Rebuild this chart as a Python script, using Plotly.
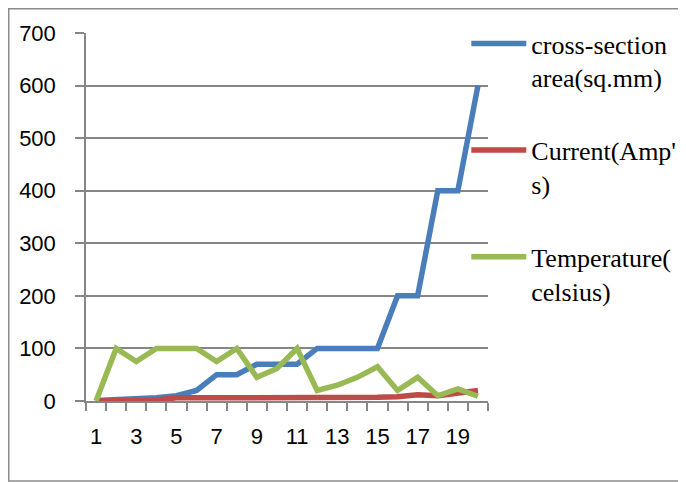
import plotly.graph_objects as go

categories = list(range(1, 21))
cross_section = [1, 2, 5, 6, 10, 20, 50, 50, 70, 70, 70, 100, 100, 100, 100, 200, 200, 400, 400, 600]
current = [0, 1, 1, 2, 6, 6, 6, 6, 6, 6, 7, 5, 6, 6, 7, 8, 12, 10, 15, 20]
temperature = [0, 100, 75, 100, 100, 100, 75, 100, 45, 62, 100, 20, 30, 45, 65, 20, 45, 10, 23, 9]

series_names = ["cross-section<br>area(sq.mm)", "Current(Amp'<br>s)", "Temperature(<br>celsius)"]
series_colors = ["#4A7EBB", "#BE4B48", "#98B954"]
x_tick_vals = [1, 3, 5, 7, 9, 11, 13, 15, 17, 19]
y_tick_vals = [0, 100, 200, 300, 400, 500, 600, 700]

fig = go.Figure()
for i, (vals, name, col) in enumerate(zip([cross_section, current, temperature], series_names, series_colors)):
    fig.add_trace(go.Scatter(x=categories, y=vals, mode="lines", name=name,
                             legendgroup=f"g{i}",
                             line=dict(color=col, width=5.5)))

# page body has an 8px default margin; compensate in figure margins
L, T, PW, PH = 78, 25, 402, 368
grid_col = "#868686"
fig.update_layout(
    width=686, height=482,
    margin=dict(l=L, r=686 - L - PW, t=T, b=482 - T - PH, autoexpand=False),
    paper_bgcolor="white", plot_bgcolor="white",
    showlegend=True,
    legend=dict(x=0.946, y=1.035, xanchor="left", yanchor="top",
                font=dict(family="Liberation Serif, Times New Roman, serif", size=26, color="black"),
                itemwidth=55, valign="top", tracegroupgap=36, maxheight=470,
                bgcolor="rgba(0,0,0,0)"),
    xaxis=dict(range=[0.5, 20.5], tickvals=x_tick_vals, ticktext=[str(v) for v in x_tick_vals],
               showgrid=False, zeroline=False, showline=True, linecolor=grid_col, linewidth=1.5,
               ticks="", ticklabelstandoff=15,
               tickfont=dict(family="Liberation Sans", size=22, color="black"),
               minor=dict(tickvals=[c + 0.5 for c in [0] + categories], ticks="outside",
                          ticklen=8, tickwidth=1.5, tickcolor=grid_col, showgrid=False)),
    yaxis=dict(range=[0, 700], tickvals=y_tick_vals, showgrid=True, gridcolor=grid_col, gridwidth=1.5,
               zeroline=False, showline=True, linecolor=grid_col, linewidth=1.5,
               ticks="outside", ticklen=9, tickwidth=1.5, tickcolor=grid_col, ticklabelstandoff=15,
               tickfont=dict(family="Liberation Sans", size=22, color="black")),
    shapes=[dict(type="rect", xref="paper", yref="paper",
                 x0=(0.75 - L) / PW, x1=(700 - L) / PW,
                 y0=-(473 - (T + PH)) / PH, y1=1 + (T - 0.75) / PH,
                 line=dict(color="#8c8c8c", width=1.5), layer="below")],
)

fig.write_html("out.html", config={"displayModeBar": False})
